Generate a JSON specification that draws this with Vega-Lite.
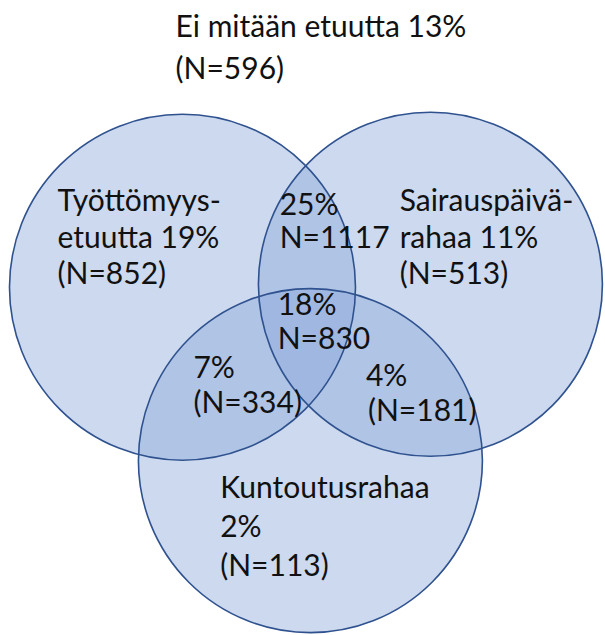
{
  "$schema": "https://vega.github.io/schema/vega-lite/v6.json",
  "width": 605,
  "height": 635,
  "autosize": {"type": "fit", "contains": "padding"},
  "padding": 0,
  "background": "white",
  "config": {"view": {"stroke": null}},
  "datasets": {
    "circles": [
      {"set": "Työttömyysetuutta", "cx": 184, "cy": 290, "r": 173},
      {"set": "Sairauspäivärahaa", "cx": 434, "cy": 287, "r": 172},
      {"set": "Kuntoutusrahaa", "cx": 313, "cy": 465, "r": 172}
    ],
    "labels": [
      {"label": "Ei mitään etuutta 13%", "lx": 177, "ly": 37},
      {"label": "(N=596)", "lx": 177, "ly": 80},
      {"label": "Työttömyys-", "lx": 58, "ly": 213},
      {"label": "etuutta 19%", "lx": 58, "ly": 250},
      {"label": "(N=852)", "lx": 58, "ly": 287},
      {"label": "25%", "lx": 282, "ly": 217},
      {"label": "N=1117", "lx": 282, "ly": 250},
      {"label": "Sairauspäivä-", "lx": 403, "ly": 213},
      {"label": "rahaa 11%", "lx": 403, "ly": 250},
      {"label": "(N=513)", "lx": 403, "ly": 287},
      {"label": "18%", "lx": 280, "ly": 318},
      {"label": "N=830", "lx": 280, "ly": 352},
      {"label": "7%", "lx": 195, "ly": 382},
      {"label": "(N=334)", "lx": 195, "ly": 417},
      {"label": "4%", "lx": 369, "ly": 390},
      {"label": "(N=181)", "lx": 371, "ly": 425},
      {"label": "Kuntoutusrahaa", "lx": 222, "ly": 503},
      {"label": "2%", "lx": 222, "ly": 542},
      {"label": "(N=113)", "lx": 222, "ly": 581}
    ]
  },
  "layer": [
    {
      "data": {"name": "circles"},
      "mark": {"type": "point", "shape": "circle", "filled": true, "fill": "#8faadc", "fillOpacity": 0.45, "opacity": 1, "strokeWidth": 0},
      "encoding": {
        "x": {"field": "cx", "type": "quantitative", "axis": null, "scale": {"domain": [0, 605], "nice": false, "zero": false}},
        "y": {"field": "cy", "type": "quantitative", "axis": null, "scale": {"domain": [0, 635], "nice": false, "zero": false, "reverse": true}},
        "size": {"field": "r", "type": "quantitative", "legend": null, "scale": {"type": "pow", "exponent": 2, "domain": [0, 100], "range": [0, 40000]}}
      }
    },
    {
      "data": {"name": "circles"},
      "mark": {"type": "point", "shape": "circle", "filled": false, "fill": null, "stroke": "#2f528f", "strokeWidth": 1.6, "opacity": 1, "strokeOpacity": 1},
      "encoding": {
        "x": {"field": "cx", "type": "quantitative", "axis": null},
        "y": {"field": "cy", "type": "quantitative", "axis": null},
        "size": {"field": "r", "type": "quantitative", "legend": null}
      }
    },
    {
      "data": {"name": "labels"},
      "mark": {"type": "text", "align": "left", "baseline": "alphabetic", "font": "Lato", "fontSize": 30, "color": "#111111"},
      "encoding": {
        "x": {"field": "lx", "type": "quantitative", "axis": null},
        "y": {"field": "ly", "type": "quantitative", "axis": null},
        "text": {"field": "label", "type": "nominal"}
      }
    }
  ]
}
